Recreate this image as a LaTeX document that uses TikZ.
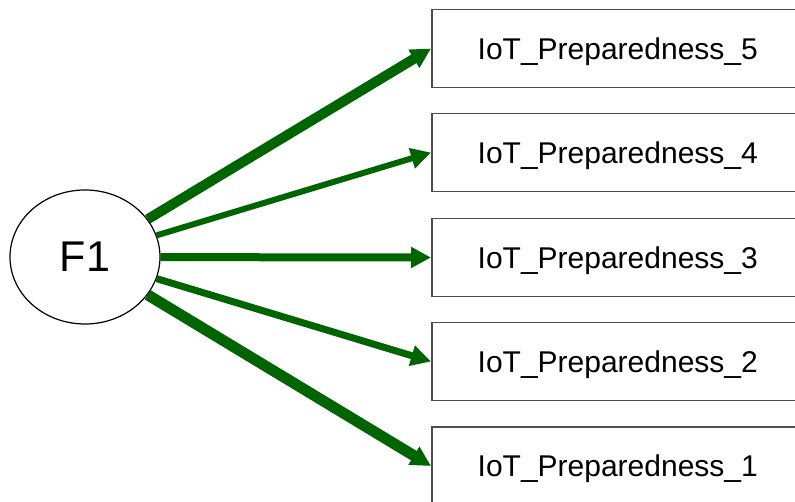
\documentclass[tikz,border=0pt]{standalone}
\usepackage{fontspec}
\setmainfont{Liberation Sans}
\usetikzlibrary{shapes.geometric, arrows.meta}
\definecolor{pathgreen}{RGB}{0,100,0}
\begin{document}
\begin{tikzpicture}[x=1pt,y=-1pt,
  latent/.style={ellipse,draw,line width=1.2pt,
    minimum width=150pt,minimum height=134pt,inner sep=0pt,
    font=\fontsize{43}{50}\selectfont},
  item/.style={draw=black!70,line width=1.5pt,
    minimum width=372pt,minimum height=78pt,inner sep=0pt,
    text height=21.5pt,text depth=0pt,
    anchor=west,font=\fontsize{30}{36}\selectfont},
  load/.style={draw=pathgreen,line width=#1,
    -{Triangle[length=20pt,width=20pt,fill=pathgreen]}}]
  \useasboundingbox (0,0) rectangle (795,502);
  \clip (0,0) rectangle (795,502);
  \node[latent] (F) at (85,257) {F1};
  % indicator boxes, top to bottom
  \foreach \i/\y in {5/48.5,4/152.5,3/257.5,2/361.5,1/466}
    \node[item] (P\i) at (431,\y) {IoT\_Preparedness\_\i};
  % loadings
  \foreach \i/\w in {5/10,4/6,3/8,2/7,1/11}
    \draw[load=\w pt] (F) -- (P\i.west);
\end{tikzpicture}
\end{document}
